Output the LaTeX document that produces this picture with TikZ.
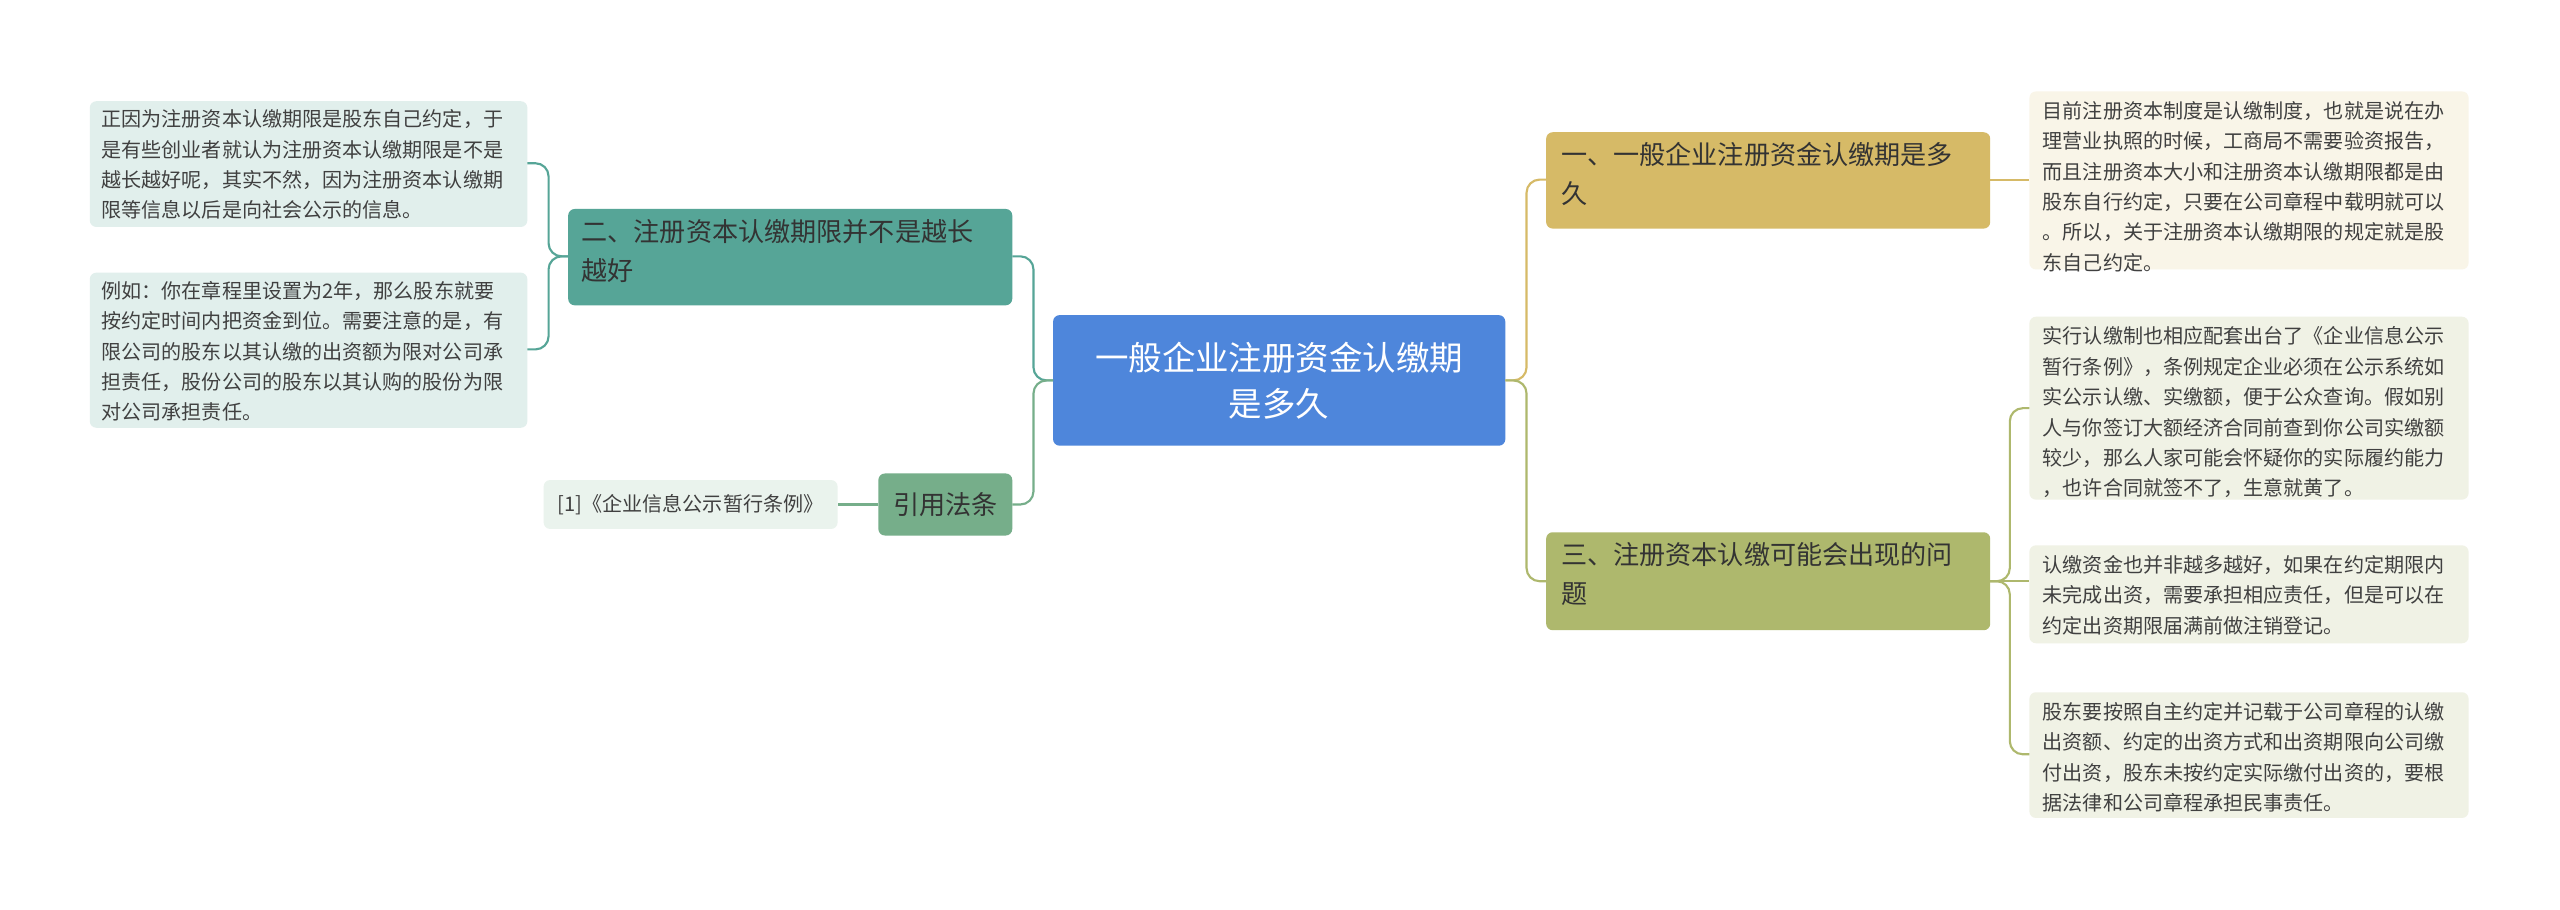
\documentclass[tikz,border=0pt]{standalone}
\usepackage{fontspec}
\setmainfont{Noto Sans CJK SC}
\begin{document}
\begin{tikzpicture}[x=1pt,y=-1pt,
  box/.style={rounded corners=4pt,anchor=north west,align=left,inner sep=0pt,font=\fontsize{12.3}{18.6}\selectfont,text=black!75},
  br/.style={rounded corners=4pt,anchor=north west,align=left,inner sep=0pt,font=\fontsize{16}{24}\selectfont,text=black!80},
  ln/.style={line width=1.3pt,rounded corners=8pt}]
\fill[white] (0,0) rectangle (1568,557);
\useasboundingbox (0,0) rectangle (1568,557);
\definecolor{cblue}{HTML}{4E86DB}
\definecolor{ctan}{HTML}{D6BA67}
\definecolor{colive}{HTML}{AEB86D}
\definecolor{cteal}{HTML}{56A597}
\definecolor{cgreen}{HTML}{76AE8A}
% center
\fill[cblue,rounded corners=4pt] (645,193) rectangle (922,273);
\node (c) at (783.5,233) {};
\node[text=white,align=center,font=\fontsize{20.5}{28}\selectfont] (ct) at (783.5,233) {一般企业注册资金认缴期\\是多久};
% right branch 1
\fill[ctan,rounded corners=4pt] (947,81) rectangle (1219,140);
\node[br] (b1) at (956,87) {一、一般企业注册资金认缴期是多\\久};
\fill[ctan!15,rounded corners=4pt] (1243,56) rectangle (1512,165);
\node[box] (r1) at (1251,62) {目前注册资本制度是认缴制度，也就是说在办\\理营业执照的时候，工商局不需要验资报告，\\而且注册资本大小和注册资本认缴期限都是由\\股东自行约定，只要在公司章程中载明就可以\\。所以，关于注册资本认缴期限的规定就是股\\东自己约定。};
% right branch 3
\fill[colive,rounded corners=4pt] (947,326) rectangle (1219,386);
\node[br] (b3) at (956,332) {三、注册资本认缴可能会出现的问\\题};
\fill[colive!18,rounded corners=4pt] (1243,194) rectangle (1512,306);
\node[box] (r2) at (1251,200) {实行认缴制也相应配套出台了《企业信息公示\\暂行条例》，条例规定企业必须在公示系统如\\实公示认缴、实缴额，便于公众查询。假如别\\人与你签订大额经济合同前查到你公司实缴额\\较少，那么人家可能会怀疑你的实际履约能力\\，也许合同就签不了，生意就黄了。};
\fill[colive!18,rounded corners=4pt] (1243,334) rectangle (1512,394);
\node[box] (r3) at (1251,340) {认缴资金也并非越多越好，如果在约定期限内\\未完成出资，需要承担相应责任，但是可以在\\约定出资期限届满前做注销登记。};
\fill[colive!18,rounded corners=4pt] (1243,424) rectangle (1512,501);
\node[box] (r4) at (1251,430) {股东要按照自主约定并记载于公司章程的认缴\\出资额、约定的出资方式和出资期限向公司缴\\付出资，股东未按约定实际缴付出资的，要根\\据法律和公司章程承担民事责任。};
% left branch 2
\fill[cteal,rounded corners=4pt] (348,128) rectangle (620,187);
\node[br] (b2) at (356,134) {二、注册资本认缴期限并不是越长\\越好};
\fill[cteal!18,rounded corners=4pt] (55,62) rectangle (323,139);
\node[box] (l1) at (62,67) {正因为注册资本认缴期限是股东自己约定，于\\是有些创业者就认为注册资本认缴期限是不是\\越长越好呢，其实不然，因为注册资本认缴期\\限等信息以后是向社会公示的信息。};
\fill[cteal!18,rounded corners=4pt] (55,167) rectangle (323,262);
\node[box] (l2) at (62,172) {例如：你在章程里设置为2年，那么股东就要\\按约定时间内把资金到位。需要注意的是，有\\限公司的股东以其认缴的出资额为限对公司承\\担责任，股份公司的股东以其认购的股份为限\\对公司承担责任。};
% cite
\fill[cgreen,rounded corners=4pt] (538,290) rectangle (620,328);
\node[font=\fontsize{16}{20}\selectfont,text=black!80] (b4) at (579,309) {引用法条};
\fill[cgreen!15,rounded corners=4pt] (333,294) rectangle (513,324);
\node[font=\fontsize{12.3}{16}\selectfont,text=black!75] (l3) at (423,309) {[1]《企业信息公示暂行条例》};
% coordinates
\coordinate (cE) at (922,233); \coordinate (cW) at (645,233);
% connectors
\draw[ln,ctan] (cE) -- (935,233) -- (935,110) -- (947,110);
\draw[ln,colive] (cE) -- (935,233) -- (935,356) -- (947,356);
\draw[ln,ctan] (1219,110) -- (1243,110);
\draw[ln,colive] (1219,356) -- (1231,356) -- (1231,250) -- (1243,250);
\draw[ln,colive] (1219,356) -- (1231,356) -- (1243,356);
\draw[ln,colive] (1219,356) -- (1231,356) -- (1231,462) -- (1243,462);
\draw[ln,cteal] (cW) -- (633,233) -- (633,157) -- (620,157);
\draw[ln,cgreen] (cW) -- (633,233) -- (633,309) -- (620,309);
\draw[ln,cteal] (348,157) -- (336,157) -- (336,100) -- (323,100);
\draw[ln,cteal] (348,157) -- (336,157) -- (336,214) -- (323,214);
\draw[ln,cgreen] (538,309) -- (513,309);
\end{tikzpicture}
\end{document}
